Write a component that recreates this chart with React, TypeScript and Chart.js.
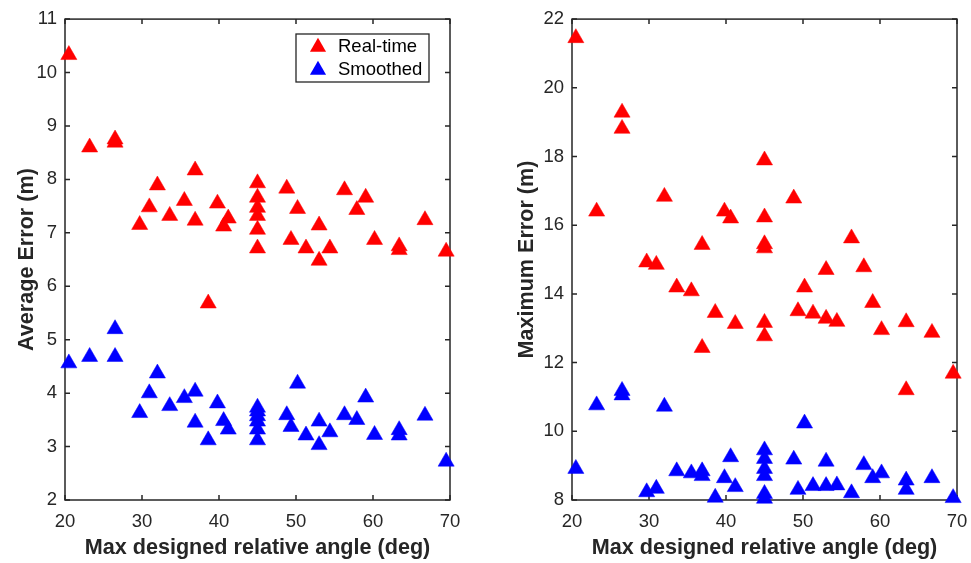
import React, { useEffect, useRef } from 'react';
import { Chart, registerables } from 'chart.js';

Chart.register(...registerables);

// ---- Data ----
const angles = [
  20.5, 23.2, 26.5, 26.5, 29.7, 30.95, 32.0, 33.6, 35.5, 36.9, 36.9, 38.6, 39.8, 40.6, 41.2,
  45, 45, 45, 45, 45, 45,
  48.8, 49.35, 50.2, 51.3, 53.0, 53.0, 54.4, 56.3, 57.9, 59.05, 60.2, 63.4, 63.4, 66.75, 69.5,
];

const avgRealTime = [
  10.33, 8.6, 8.75, 8.69, 7.15, 7.48, 7.89, 7.32, 7.6, 8.17, 7.23, 5.68, 7.55, 7.12, 7.27,
  7.93, 7.66, 7.47, 7.32, 7.06, 6.71,
  7.83, 6.87, 7.45, 6.71, 7.14, 6.48, 6.71, 7.8, 7.43, 7.66, 6.87, 6.75, 6.68, 7.24, 6.65,
];

const avgSmoothed = [
  4.56, 4.68, 5.2, 4.68, 3.63, 4.0, 4.37, 3.76, 3.91, 4.03, 3.45, 3.12, 3.81, 3.48, 3.32,
  3.73, 3.66, 3.57, 3.47, 3.32, 3.12,
  3.59, 3.37, 4.18, 3.21, 3.47, 3.03, 3.27, 3.59, 3.5, 3.92, 3.22, 3.31, 3.21, 3.58, 2.72,
];

const maxRealTime = [
  21.45, 16.4, 19.28, 18.81, 14.92, 14.85, 16.83, 14.19, 14.08, 15.43, 12.43, 13.45, 16.4, 16.2, 13.13,
  17.89, 16.23, 15.45, 15.33, 13.16, 12.77,
  16.78, 13.5, 14.19, 13.43, 14.7, 13.28, 13.19, 15.62, 14.78, 13.74, 12.95, 13.18, 11.2, 12.87, 11.68,
];

const maxSmoothed = [
  8.91, 10.76, 11.18, 11.05, 8.23, 8.33, 10.72, 8.84, 8.78, 8.84, 8.7, 8.07, 8.64, 9.25, 8.38,
  9.45, 9.2, 8.91, 8.7, 8.18, 8.04,
  9.18, 8.3, 10.23, 8.41, 9.12, 8.41, 8.43, 8.2, 9.02, 8.64, 8.78, 8.57, 8.3, 8.64, 8.06,
];

const seriesNames = ['Real-time', 'Smoothed'];
const xTitle = 'Max designed relative angle (deg)';
const leftYTitle = 'Average Error (m)';
const rightYTitle = 'Maximum Error (m)';

// ---- Styling ----
const FONT = "'Liberation Sans', Arial, Helvetica, sans-serif";
const AXIS_COLOR = '#262626';
const RED = '#ff0000';
const BLUE = '#0000ff';
const MARKER_R = 9.3;
const W = 971;
const H = 563;
const LEFT_W = 486;
const RIGHT_W = 500;

const boxPlugin = {
  id: 'matlabBox',
  beforeDatasetsDraw(chart: any) {
    const { ctx, chartArea: a, scales } = chart;
    ctx.save();
    ctx.strokeStyle = AXIS_COLOR;
    ctx.lineWidth = 1.5;
    ctx.strokeRect(a.left, a.top, a.right - a.left, a.bottom - a.top);
    const tl = 5;
    ctx.beginPath();
    scales.x.ticks.forEach((t: any) => {
      const px = scales.x.getPixelForValue(t.value);
      ctx.moveTo(px, a.bottom);
      ctx.lineTo(px, a.bottom - tl);
      ctx.moveTo(px, a.top);
      ctx.lineTo(px, a.top + tl);
    });
    scales.y.ticks.forEach((t: any) => {
      const py = scales.y.getPixelForValue(t.value);
      ctx.moveTo(a.left, py);
      ctx.lineTo(a.left + tl, py);
      ctx.moveTo(a.right, py);
      ctx.lineTo(a.right - tl, py);
    });
    ctx.stroke();
    ctx.restore();
  },
};

function triangle(ctx: CanvasRenderingContext2D, x: number, y: number, r: number) {
  let rad = 0;
  const step = (2 * Math.PI) / 3;
  ctx.beginPath();
  ctx.moveTo(x + Math.sin(rad) * r, y - Math.cos(rad) * r);
  rad += step;
  ctx.lineTo(x + Math.sin(rad) * r, y - Math.cos(rad) * r);
  rad += step;
  ctx.lineTo(x + Math.sin(rad) * r, y - Math.cos(rad) * r);
  ctx.closePath();
}

const legendPlugin = {
  id: 'boxLegend',
  afterDraw(chart: any) {
    const { ctx } = chart;
    const bx = 296, by = 34, bw = 133, bh = 48;
    ctx.save();
    ctx.fillStyle = '#ffffff';
    ctx.fillRect(bx, by, bw, bh);
    ctx.strokeStyle = AXIS_COLOR;
    ctx.lineWidth = 1.3;
    ctx.strokeRect(bx, by, bw, bh);
    const rows = [
      { y: 47, color: RED, text: seriesNames[0] },
      { y: 70, color: BLUE, text: seriesNames[1] },
    ];
    rows.forEach((r) => {
      ctx.fillStyle = r.color;
      triangle(ctx, 318, r.y, MARKER_R);
      ctx.fill();
      ctx.fillStyle = '#000000';
      ctx.font = `18.5px ${FONT}`;
      ctx.textBaseline = 'middle';
      ctx.textAlign = 'left';
      ctx.fillText(r.text, 338, r.y);
    });
    ctx.restore();
  },
};

type PanelProps = {
  width: number;
  left: number;
  rt: number[];
  sm: number[];
  yMin: number;
  yMax: number;
  yStep: number;
  yTitle: string;
  yAxisWidth: number;
  rightPad: number;
  yTitlePad: number;
  withLegend: boolean;
};

function Panel(p: PanelProps) {
  const ref = useRef<HTMLCanvasElement | null>(null);
  useEffect(() => {
    if (!ref.current) return;
    const mk = (ys: number[]) => angles.map((x, i) => ({ x, y: ys[i] }));
    const ds = (label: string, ys: number[], color: string) => ({
      label,
      data: mk(ys),
      pointStyle: 'triangle',
      pointRadius: MARKER_R,
      pointHoverRadius: MARKER_R,
      backgroundColor: color,
      borderColor: color,
      borderWidth: 0.5,
      clip: false,
      showLine: false,
    });
    const chart = new Chart(ref.current, {
      type: 'scatter',
      data: {
        datasets: [ds(seriesNames[1], p.sm, BLUE), ds(seriesNames[0], p.rt, RED)],
      },
      options: {
        animation: false,
        responsive: false,
        maintainAspectRatio: false,
        layout: { padding: { left: 0, top: 17, right: p.rightPad, bottom: 0 } },
        plugins: { legend: { display: false }, tooltip: { enabled: false } },
        scales: {
          x: {
            type: 'linear',
            position: 'bottom',
            min: 20,
            max: 70,
            afterFit: (s: any) => { s.height = H - 500; },
            ticks: {
              stepSize: 10,
              color: AXIS_COLOR,
              padding: 11,
              font: { family: FONT, size: 18.5 },
            },
            grid: { display: false, drawTicks: false },
            border: { display: false },
            title: {
              display: true,
              text: xTitle,
              color: AXIS_COLOR,
              font: { family: FONT, size: 21.6, weight: 'bold' },
              padding: { top: 0, bottom: 1.5 },
            },
          },
          y: {
            type: 'linear',
            min: p.yMin,
            max: p.yMax,
            afterFit: (s: any) => { s.width = p.yAxisWidth; },
            ticks: {
              stepSize: p.yStep,
              color: AXIS_COLOR,
              padding: 8,
              font: { family: FONT, size: 18.5 },
            },
            grid: { display: false, drawTicks: false },
            border: { display: false },
            title: {
              display: true,
              text: p.yTitle,
              color: AXIS_COLOR,
              font: { family: FONT, size: 21.6, weight: 'bold' },
              padding: { top: p.yTitlePad, bottom: 0 },
            },
          },
        },
      },
      plugins: p.withLegend ? [boxPlugin, legendPlugin] : [boxPlugin],
    } as any);
    return () => chart.destroy();
  }, []);
  return (
    <canvas
      ref={ref}
      width={p.width}
      height={H}
      style={{ position: 'absolute', left: p.left, top: 0, width: p.width, height: H }}
    />
  );
}

export default function App() {
  return (
    <div style={{ position: 'fixed', left: 0, top: 0, width: W, height: H, background: '#ffffff', overflow: 'hidden' }}>
      <Panel
        width={LEFT_W}
        left={0}
        rt={avgRealTime}
        sm={avgSmoothed}
        yMin={2}
        yMax={11}
        yStep={1}
        yTitle={leftYTitle}
        yAxisWidth={65}
        rightPad={LEFT_W - 450}
        yTitlePad={14}
        withLegend={true}
      />
      <Panel
        width={RIGHT_W}
        left={LEFT_W}
        rt={maxRealTime}
        sm={maxSmoothed}
        yMin={8}
        yMax={22}
        yStep={2}
        yTitle={rightYTitle}
        yAxisWidth={572 - LEFT_W}
        rightPad={LEFT_W + RIGHT_W - 957}
        yTitlePad={28.5}
        withLegend={false}
      />
    </div>
  );
}
